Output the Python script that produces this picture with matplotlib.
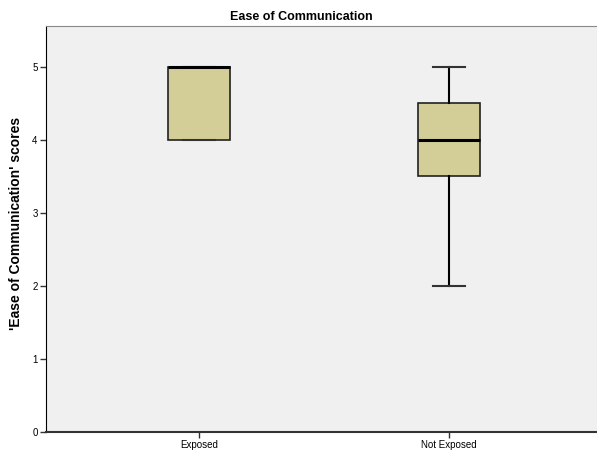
import matplotlib
matplotlib.use("Agg")
import matplotlib.pyplot as plt

plt.rcParams['font.family'] = ['Liberation Sans', 'DejaVu Sans']

categories = ["Exposed", "Not Exposed"]
whislo = [4, 2]
q1 = [4, 3.5]
med = [5, 4]
q3 = [5, 4.5]
whishi = [5, 5]
yticks = [0, 1, 2, 3, 4, 5]

stats = []
for c, lo, a, m, b, hi in zip(categories, whislo, q1, med, q3, whishi):
    stats.append(dict(label=c, whislo=lo, q1=a, med=m, q3=b, whishi=hi, fliers=[]))

fig = plt.figure(figsize=(5.97, 4.5), dpi=100)
ax = fig.add_axes([46/597, 18/450, 1 - 46/597, (432-26)/450])
ax.set_facecolor('#F0F0F0')

ax.bxp(stats, positions=[1, 2], widths=0.25, patch_artist=True, showfliers=False,
       boxprops=dict(facecolor='#D3CE97', edgecolor='#222222', linewidth=1.2),
       medianprops=dict(color='black', linewidth=2.2),
       whiskerprops=dict(color='black', linewidth=1.5),
       capprops=dict(color='#333333', linewidth=1.5), capwidths=0.125)

ax.set_xlim(0.388, 2.592)
ax.set_ylim(0, 5.56)
ax.set_yticks(yticks)
ax.set_xticks([1, 2])
ax.set_xticklabels(categories)
ax.tick_params(axis='both', labelsize=7, length=4, width=1, color='#333333', pad=2)
ax.spines['top'].set_color('#888888')
ax.spines['right'].set_visible(False)
ax.spines['left'].set_color('black')
ax.spines['bottom'].set_color('#333333')
ax.spines['bottom'].set_linewidth(1.5)
ax.set_ylabel("'Ease of Communication' scores", fontsize=10, fontweight='bold', labelpad=4)
ax.yaxis.set_label_coords(-23/551, (432-223)/406)
fig.text(0.505, 1 - 17/450, "Ease of Communication", fontsize=9, fontweight='bold',
         ha='center', va='center')

fig.savefig('out.png', dpi=100)
